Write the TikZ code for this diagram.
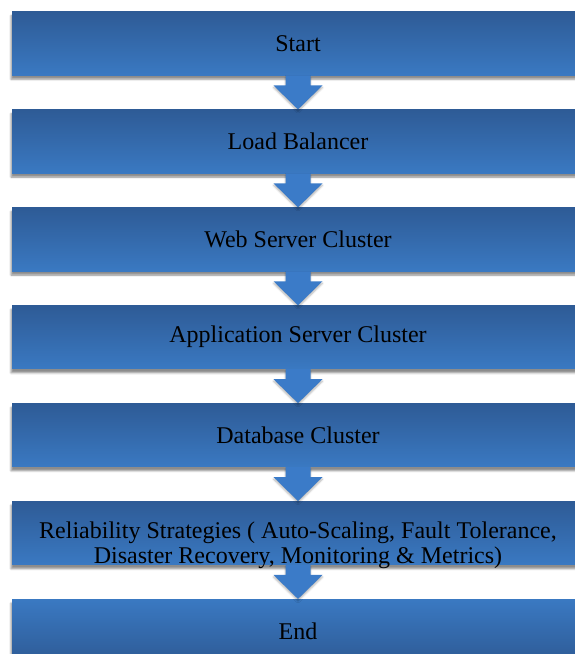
\documentclass[tikz,border=0pt]{standalone}
\usepackage{fontspec}
\setmainfont{Liberation Serif}
\usepackage{tikz}
\usetikzlibrary{positioning,calc,shadows.blur}
\definecolor{boxdark}{RGB}{46,91,150}
\definecolor{boxlight}{RGB}{58,121,194}
\definecolor{arrowblue}{RGB}{59,123,200}
\newcommand{\flowarrow}[2]{%
	\fill[arrowblue, blur shadow={shadow xshift=0pt, shadow yshift=-2pt, shadow opacity=30}]
		($(#1.south)+(-12.5,0)$) -- ($(#2.north)+(-12.5,24)$) -- ($(#2.north)+(-24.5,24)$)
		-- (#2.north) -- ($(#2.north)+(24.5,24)$) -- ($(#2.north)+(12.5,24)$)
		-- ($(#1.south)+(12.5,0)$) -- cycle;}

\begin{document}
\begin{tikzpicture}[x=1pt, y=1pt, node distance=34pt,
	stage/.style={rectangle, minimum width=572pt, minimum height=63.5pt, inner sep=0pt,
		align=center, top color=boxdark, bottom color=boxlight,
		blur shadow={shadow xshift=-1pt, shadow yshift=-4pt, shadow opacity=45},
		font=\fontsize{24}{25}\selectfont},
	endstage/.style={stage, top color=boxlight, bottom color=boxdark}]
	\useasboundingbox (0, 0) rectangle (574, -654);
	% Boxes:
	\node[stage] (start) at (298, -43.5) {Start};
	\node[stage, below=of start] (lb) {Load Balancer};
	\node[stage, below=of lb] (web) {Web Server Cluster};
	\node[stage, below=of web] (app) {Application Server Cluster};
	\node[stage, below=of app] (db) {Database Cluster};
	\node[stage, below=of db, text height=61pt, text depth=0pt] (rel)
		{Reliability Strategies ( Auto-Scaling, Fault Tolerance,\\
		Disaster Recovery, Monitoring \& Metrics)};
	\node[endstage, below=of rel] (end) {End};
	% Arrows:
	\flowarrow{start}{lb}
	\flowarrow{lb}{web}
	\flowarrow{web}{app}
	\flowarrow{app}{db}
	\flowarrow{db}{rel}
	\flowarrow{rel}{end}
\end{tikzpicture}
\end{document}
